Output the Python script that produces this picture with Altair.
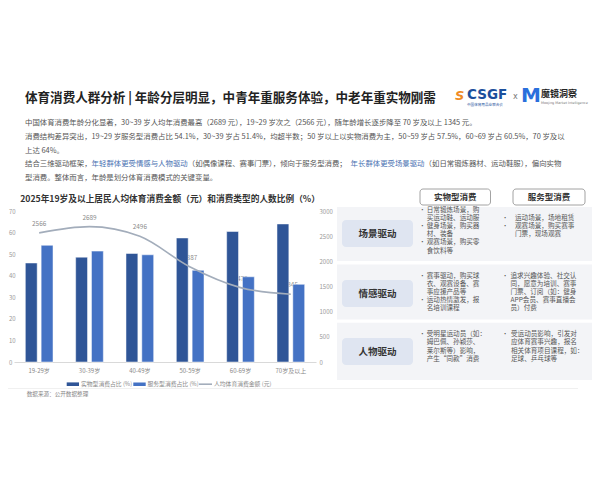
import altair as alt
import pandas as pd

# ---------------- data ----------------
ages = ["19-29岁", "30-39岁", "40-49岁", "50-59岁", "60-69岁", "70岁及以上"]
goods_pct = [45.9, 48.6, 50.3, 57.5, 60.5, 64.0]
service_pct = [54.1, 51.4, 49.7, 42.5, 39.5, 36.0]
spend = [2566, 2689, 2496, 1887, 1478, 1345]
series_names = ["实物型消费占比 (%)", "服务型消费占比 (%)"]
line_name = "人均体育消费金额 (元)"
left_ticks = [0, 10, 20, 30, 40, 50, 60, 70]
right_ticks = [0, 500, 1000, 1500, 2000, 2500, 3000]

page_title = "体育消费人群分析 | 年龄分层明显，中青年重服务体验，中老年重实物刚需"
chart_title = "2025年19岁及以上居民人均体育消费金额（元）和消费类型的人数比例（%）"
source_text = "数据来源：公开数据整理"
para_lines = [
    [("中国体育消费年龄分化显著，30~39 岁人均年消费最高（2689 元），19~29 岁次之（2566 元），随年龄增长逐步降至 70 岁及以上 1345 元。", False)],
    [("消费结构差异突出，19~29 岁服务型消费占比 54.1%，30~39 岁占 51.4%，均超半数；50 岁以上以实物消费为主，50~59 岁占 57.5%，60~69 岁占 60.5%，70 岁及以", False)],
    [("上达 64%。", False)],
    [("结合三维驱动框架，", False), ("年轻群体更受情感与人物驱动", True),
     ("（如偶像课程、赛事门票），倾向于服务型消费；", False), ("年长群体更受场景驱动", True),
     ("（如日常锻炼器材、运动鞋服），偏向实物", False)],
    [("型消费。整体而言，年龄是划分体育消费模式的关键变量。", False)],
]
col_headers = ["实物型消费", "服务型消费"]
row_labels = ["场景驱动", "情感驱动", "人物驱动"]
col1_items = [
    [["日常锻炼场景，购", "买运动鞋、运动服"], ["健身场景，购买器", "材、装备"], ["观赛场景，购买零", "食饮料等"]],
    [["赛事驱动，购买球", "衣、观赛设备、赛", "事应援产品等"], ["运动热情激发，报", "名培训课程"]],
    [["受明星运动员（如：", "姆巴佩、孙颖莎、", "莱尔斯等）影响，", "产生“同款”消费"]],
]
col2_items = [
    [["运动场景，场地租赁"], ["观赛场景，购买赛事", "门票，现场观赛"]],
    [["追求兴趣体验、社交认", "同，愿意为培训、赛事", "门票、订阅（如：健身", "APP会员、赛事直播会", "员）付费"]],
    [["受运动员影响，引发对", "应体育赛事兴趣，报名", "相关体育项目课程，如：", "足球、乒乓球等"]],
]

# ---------------- styling / layout ----------------
FONT = "Noto Sans CJK SC"
DARK = "#2F5597"
LIGHT = "#4472C4"
LINE_C = "#a3adbb"
PX0, PY0 = 14, 211          # page position of plot-area origin
PW, PH = 302, 151           # plot-area size
ONE = pd.DataFrame({"k": [0]})


def X(px):
    return px - PX0


def Y(py):
    return py - PY0


def txt(px, py, text, size, color="#555", weight="normal", align="left",
        baseline="middle", font=FONT, style="normal"):
    kw = dict(fontSize=size, color=color, fontWeight=weight, align=align,
              baseline=baseline, font=font, fontStyle=style)
    return alt.Chart(ONE).mark_text(**kw).encode(
        x=alt.value(X(px)), y=alt.value(Y(py)), text=alt.value(text))


def box(x1, y1, x2, y2, fill, stroke=None, sw=0.8, r=0):
    kw = dict(fill=fill, cornerRadius=r)
    if stroke:
        kw.update(stroke=stroke, strokeWidth=sw)
    return alt.Chart(ONE).mark_rect(**kw).encode(
        x=alt.value(X(x1)), x2=alt.value(X(x2)),
        y=alt.value(Y(y1)), y2=alt.value(Y(y2)))


def hrule(x1, x2, y, color, w=1):
    return alt.Chart(ONE).mark_rule(color=color, strokeWidth=w).encode(
        x=alt.value(X(x1)), x2=alt.value(X(x2)), y=alt.value(Y(y)))


layers = []

# ---- header ----
layers.append(txt(25, 97.5, page_title, 12.55, "#222", "bold"))
layers.append(txt(455, 96, "S", 13, "#f08a24", "bold", font="DejaVu Sans", style="italic"))
layers.append(txt(467, 95, "CSGF", 13.5, "#1c4f9c", "bold", font="DejaVu Sans"))
layers.append(txt(467, 104.5, "中国体育用品业联合会", 3.6, "#1c4f9c"))
layers.append(txt(513, 97, "x", 8, "#777", font="DejaVu Sans"))
layers.append(txt(521, 96, "M", 20, "#2a6fdc", "bold", font="DejaVu Sans"))
layers.append(txt(541, 94, "魔镜洞察", 9, "#222", "bold"))
layers.append(txt(541, 103, "Moojing Market Intelligence", 3.4, "#777", font="DejaVu Sans"))

PFS = 7.4
para_y = [123.3, 137, 150.7, 164.2, 177.8]
for segs, py in zip(para_lines, para_y):
    em = 0
    for s, blue in segs:
        layers.append(txt(25 + em * PFS, py, s, PFS, "#4a72b2" if blue else "#555"))
        em += len(s)

# ---- chart annotations ----
layers.append(txt(170, 199, chart_title, 8.7, "#333", "bold", align="center"))
layers.append(box(66.7, 382.4, 79, 386, DARK))
layers.append(txt(81, 384, series_names[0], 5.8, "#888"))
layers.append(box(133.3, 382.4, 145.7, 386, LIGHT))
layers.append(txt(147.5, 384, series_names[1], 5.8, "#888"))
layers.append(hrule(199, 212, 384.2, LINE_C, 1.6))
layers.append(txt(214, 384, line_name, 5.8, "#888"))
layers.append(txt(26.7, 394.3, source_text, 5.6, "#888"))
layers.append(hrule(8, 578, 388.5, "#f0f0f0", 1))

# ---- table ----
row_bg = [(207, 261), (264.5, 319.5), (322.8, 380)]
lab_box = [(220, 247), (280, 307), (338, 365)]
for (y1, y2) in row_bg:
    layers.append(box(337, y1, 600, y2, "#f3f4f7"))
for (y1, y2), lab in zip(lab_box, row_labels):
    layers.append(box(342, y1, 413, y2, "#dfe5f1", r=4))
    layers.append(txt(377.5, (y1 + y2) / 2 + 0.5, lab, 9.5, "#333", "bold", align="center"))

layers.append(box(420, 189, 490.5, 205, "white", "#8c8c8c", 0.8, 3))
layers.append(txt(455.2, 197, col_headers[0], 8.5, "#333", "bold", align="center"))
layers.append(box(513, 189, 585, 205, "white", "#8c8c8c", 0.8, 3))
layers.append(txt(549, 197, col_headers[1], 8.5, "#333", "bold", align="center"))

TFS, TLH = 6.6, 8.1
col1_start = [210, 275.5, 334.3]
col2_start = [217.7, 275.5, 334.3]
col2_textx = [515, 510.5, 511]


def add_items(items, start, bx, tx):
    y = start
    for lines in items:
        layers.append(txt(bx, y, "•", 6.2, "#555"))
        for ln in lines:
            layers.append(txt(tx, y, ln, TFS, "#555"))
            y += TLH


for r in range(3):
    add_items(col1_items[r], col1_start[r], 419.2, 426.7)
    add_items(col2_items[r], col2_start[r], 502, col2_textx[r])

# ---------------- data chart ----------------
df_bars = pd.DataFrame({
    "age": ages * 2,
    "series": [series_names[0]] * len(ages) + [series_names[1]] * len(ages),
    "pct": goods_pct + service_pct,
})
df_line = pd.DataFrame({"age": ages, "spend": spend})

xscale = alt.Scale(domain=ages, paddingInner=0.45, paddingOuter=0.225)
xaxis = alt.Axis(title=None, labelAngle=0, labelFontSize=6, labelColor="#888",
                 labelFont=FONT, labelPadding=5, ticks=False, domain=True,
                 domainColor="#d9d9d9", grid=False)

labels = alt.Chart(df_line).mark_text(dy=-9, fontSize=6.4, color="#8a8a8a", font=FONT).encode(
    x=alt.X("age:N", sort=ages, scale=xscale, axis=xaxis),
    y=alt.Y("spend:Q", scale=alt.Scale(domain=[0, 3000]), axis=None),
    text=alt.Text("spend:Q", format="d"),
)

bars = alt.Chart(df_bars).mark_bar(stroke="white", strokeWidth=0.7, strokeOpacity=0.7).encode(
    x=alt.X("age:N", sort=ages, scale=xscale, axis=xaxis),
    xOffset=alt.XOffset("series:N", sort=series_names,
                        scale=alt.Scale(domain=series_names, paddingInner=0.25, paddingOuter=0)),
    y=alt.Y("pct:Q", scale=alt.Scale(domain=[0, 70]),
            axis=alt.Axis(orient="left", values=left_ticks, title=None, grid=False,
                          domain=False, ticks=False, labelFontSize=6, labelColor="#999",
                          labelFont=FONT, labelAlign="left", labelPadding=5.5)),
    color=alt.Color("series:N", sort=series_names,
                    scale=alt.Scale(domain=series_names, range=[DARK, LIGHT]), legend=None),
)

line = alt.Chart(df_line).mark_line(interpolate="monotone", color=LINE_C, strokeWidth=1.6).encode(
    x=alt.X("age:N", sort=ages, scale=xscale, axis=xaxis),
    y=alt.Y("spend:Q", scale=alt.Scale(domain=[0, 3000]),
            axis=alt.Axis(orient="right", values=right_ticks, title=None, grid=False,
                          domain=False, ticks=False, labelFontSize=6, labelColor="#999",
                          labelFont=FONT, labelPadding=3, format="d")),
)

chart = alt.layer(*layers, labels, bars, line).resolve_scale(y="independent").properties(
    width=PW, height=PH,
    padding={"left": PX0 - 8, "top": PY0 - 8, "right": 584 - (PX0 - 8) - PW,
             "bottom": 464 - (PY0 - 8) - PH},
    autosize=alt.AutoSizeParams(type="none"),
    background="white",
).configure_view(stroke=None)

chart.save("out.html", embed_options={"renderer": "svg", "actions": False})
